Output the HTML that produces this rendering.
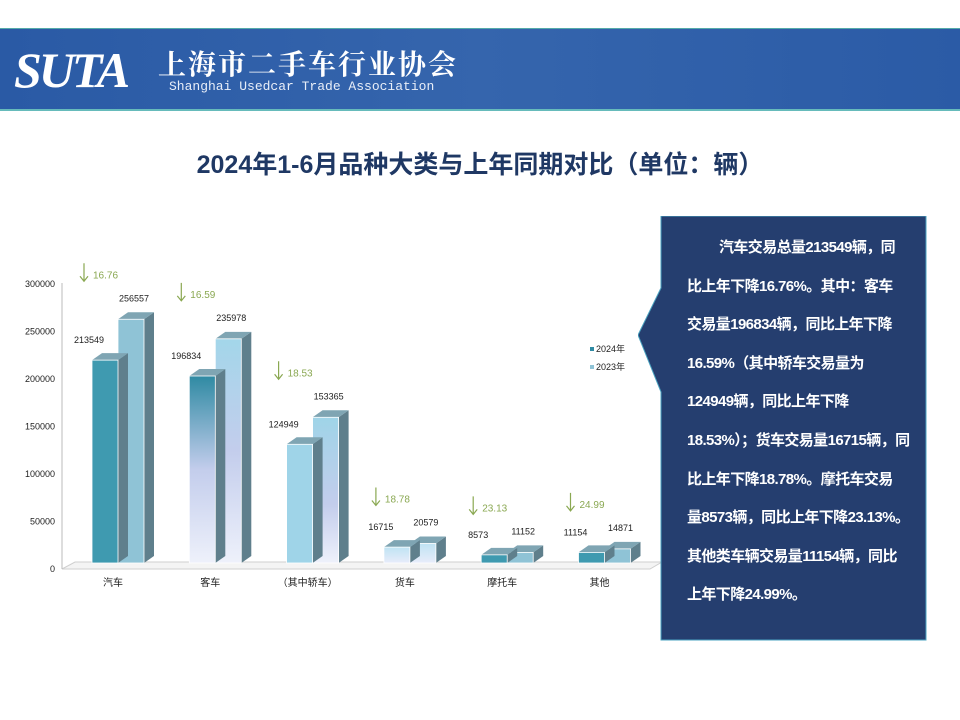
<!DOCTYPE html>
<html><head><meta charset="utf-8"><style>
body{margin:0;width:960px;height:720px;background:#fff;overflow:hidden;font-family:"Liberation Sans","Noto Sans CJK SC",sans-serif;position:relative}
#hdr{position:absolute;left:0;top:28px;width:960px;height:80px;background:linear-gradient(90deg,#2a5aa5,#3565ad 50%,#2b5ba6);border-top:1px solid #5aa;border-bottom:2px solid #6bb}
#title{position:absolute;left:0;width:960px;top:145px;text-align:center;font-size:25px;font-weight:bold;color:#1f3864}
#panel{position:absolute;left:638px;top:216px}
.ln{white-space:nowrap;height:38.6px}
</style></head><body>
<div id="hdr">
 <div style="position:absolute;left:14px;top:12px;font:italic bold 50px 'Liberation Serif',serif;color:#fff;letter-spacing:-3px">SUTA</div>
 <div style="position:absolute;left:158px;top:14px;font-size:28px;color:#fff;letter-spacing:2px;font-weight:bold;font-family:'Noto Serif CJK SC',serif">上海市二手车行业协会</div>
 <div style="position:absolute;left:169px;top:50px;font:13px 'Liberation Mono',monospace;color:#e8eef8">Shanghai Usedcar Trade Association</div>
</div>
<div id="title">2024年1-6月品种大类与上年同期对比（单位：辆）</div>
<svg width="960" height="720" style="position:absolute;left:0;top:0" id="chart">
<defs>
<linearGradient id="gk" x1="0" y1="0" x2="0" y2="1"><stop offset="0" stop-color="#2f8aa3"/><stop offset="0.5" stop-color="#c3cdec"/><stop offset="1" stop-color="#eef1fb"/></linearGradient>
<linearGradient id="gk2" x1="0" y1="0" x2="0" y2="1"><stop offset="0" stop-color="#a3d6ea"/><stop offset="0.5" stop-color="#c3cdec"/><stop offset="1" stop-color="#eef1fb"/></linearGradient>
<linearGradient id="gs" x1="0" y1="0" x2="0" y2="1"><stop offset="0" stop-color="#9fd4e8"/><stop offset="0.6" stop-color="#c3cdec"/><stop offset="1" stop-color="#eef1fb"/></linearGradient>
<linearGradient id="gh" x1="0" y1="0" x2="0" y2="1"><stop offset="0" stop-color="#bfe3f3"/><stop offset="1" stop-color="#e8ecfa"/></linearGradient>
</defs>
<g id="g"></g>
</svg>
<svg id="panel" width="300" height="430">
<polygon points="23,0 288,0 288,424 23,424 23,176 0,119 23,72" fill="#253e6f" stroke="#4aa3c0" stroke-width="1"/>
</svg>
<div style="position:absolute;left:687px;top:229px;width:235px;color:#fff;font-weight:bold;font-size:15px;line-height:38.6px;letter-spacing:-0.6px;font-family:'Liberation Sans','Noto Sans CJK SC',sans-serif">
<div class="ln" style="padding-left:32px">汽车交易总量213549辆，同</div>
<div class="ln">比上年下降16.76%。其中：客车</div>
<div class="ln">交易量196834辆，同比上年下降</div>
<div class="ln">16.59%（其中轿车交易量为</div>
<div class="ln">124949辆，同比上年下降</div>
<div class="ln">18.53%）；货车交易量16715辆，同</div>
<div class="ln">比上年下降18.78%。摩托车交易</div>
<div class="ln">量8573辆，同比上年下降23.13%。</div>
<div class="ln">其他类车辆交易量11154辆，同比</div>
<div class="ln">上年下降24.99%。</div>
</div>
<script>
const categories=["汽车","客车","（其中轿车）","货车","摩托车","其他"];
const values2024=[213549,196834,124949,16715,8573,11154];
const values2023=[256557,235978,153365,20579,11152,14871];
const declines=["16.76","16.59","18.53","18.78","23.13","24.99"];
const yTicks=[0,50000,100000,150000,200000,250000,300000];
const fills24=["#3f9ab0","url(#gk)","#9fd4e8","url(#gh)","#3f9ab0","#3f9ab0"];
const fills23=["#8fc3d6","url(#gk2)","url(#gs)","url(#gh)","#8fc3d6","#8fc3d6"];
const NS="http://www.w3.org/2000/svg",g=document.getElementById('g');
const base=563,axisY=569,k=0.95/1000;
function y(v){return base-v*k;}
function yt(v){return axisY-v*k;}
function cx(i){return 118+i*97.3;}
function el(t,a,txt){const e=document.createElementNS(NS,t);for(const n in a)e.setAttribute(n,a[n]);if(txt!==undefined)e.textContent=txt;g.appendChild(e);return e;}
let f=el('polygon',{points:"75,562 662,562 650,569 62,569",fill:"#f4f4f4",stroke:"#cfcfcf"});

let ax=el('line',{x1:62,y1:283,x2:62,y2:569,stroke:"#bbb"});

yTicks.forEach(v=>{const t=el('text',{x:55,y:yt(v)+3,'text-anchor':'end','font-size':9,fill:'#222'},v);
});
function bar(x,v,fill,nm){const w=26,d=10,h=7,t=y(v);
 const grp=document.createElementNS(NS,'g');g.appendChild(grp);
 
 const mk=(tag,a)=>{const e=document.createElementNS(NS,tag);for(const n in a)e.setAttribute(n,a[n]);grp.appendChild(e);};
 mk('polygon',{points:`${x+w},${t} ${x+w+d},${t-h} ${x+w+d},${base-h} ${x+w},${base}`,fill:"#5f7f8c"});
 mk('polygon',{points:`${x},${t} ${x+d},${t-h} ${x+w+d},${t-h} ${x+w},${t}`,fill:"#7fa5b3"});
 mk('rect',{x:x,y:t,width:w,height:base-t,fill:fill,stroke:"#fff","stroke-width":0.8});}
categories.forEach((c,i)=>{const x0=cx(i)-26;
 bar(x0+26,values2023[i],fills23[i],'bar-2023-'+i);
 bar(x0,values2024[i],fills24[i],'bar-2024-'+i);
 let a=el('text',{x:x0-3,y:y(values2024[i])-17,'text-anchor':'middle','font-size':9,fill:'#222'},values2024[i]);
 
 let b=el('text',{x:x0+42,y:y(values2023[i])-18,'text-anchor':'middle','font-size':9,fill:'#222'},values2023[i]);
 
 let l=el('text',{x:cx(i)-5,y:586,'text-anchor':'middle','font-size':10,fill:'#222'},c);
 
 const ay=y(values2023[i])-56,axx=x0-8;
 let ar=el('path',{d:`M${axx},${ay} V${ay+18} M${axx-4},${ay+13} L${axx},${ay+18} L${axx+4},${ay+13}`,stroke:'#8aa852',fill:'none','stroke-width':1.2});
 
 let dt=el('text',{x:axx+9,y:ay+15,'font-size':10,fill:'#8aa852'},declines[i]);
 
});
[["2024年","#2f8aa3",352],["2023年","#8fc3d6",370]].forEach(([t,c,yy])=>{
 let r=el('rect',{x:590,y:yy-5,width:4,height:4,fill:c});
 let tx=el('text',{x:596,y:yy,'font-size':9,fill:'#222'},t);});
</script>
</body></html>
